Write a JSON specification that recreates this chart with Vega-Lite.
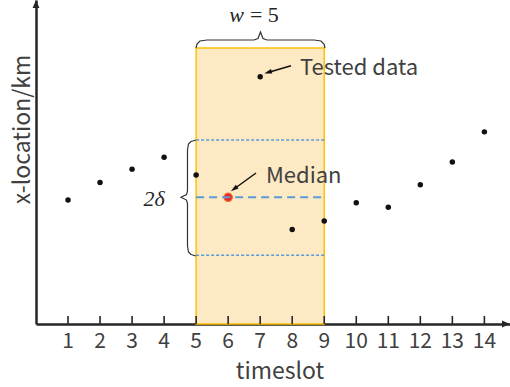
{
  "$schema": "https://vega.github.io/schema/vega-lite/v6.json",
  "width": 474,
  "height": 324,
  "autosize": {"type": "none"},
  "padding": {"left": 36, "top": 0, "right": 0, "bottom": 63},
  "background": "white",
  "config": {
    "view": {"stroke": null},
    "axis": {"grid": false},
    "axisX": {
      "domain": true, "domainColor": "#262626", "domainWidth": 2.5,
      "ticks": false, "labels": false,
      "titleFont": "Noto Sans CJK SC", "titleFontSize": 23,
      "titleFontWeight": "normal", "titleColor": "#404040"
    },
    "axisY": {
      "domain": true, "domainColor": "#262626", "domainWidth": 2.5,
      "ticks": false, "labels": false,
      "titleFont": "Noto Sans CJK SC", "titleFontSize": 23,
      "titleFontWeight": "normal", "titleColor": "#404040"
    }
  },
  "datasets": {
    "pts": [
      {"t": 1, "loc": 3.83, "kind": "data"},
      {"t": 2, "loc": 4.37, "kind": "data"},
      {"t": 3, "loc": 4.78, "kind": "data"},
      {"t": 4, "loc": 5.15, "kind": "data"},
      {"t": 5, "loc": 4.6, "kind": "data"},
      {"t": 6, "loc": 3.91, "kind": "median"},
      {"t": 7, "loc": 7.63, "kind": "data"},
      {"t": 8, "loc": 2.92, "kind": "data"},
      {"t": 9, "loc": 3.18, "kind": "data"},
      {"t": 10, "loc": 3.74, "kind": "data"},
      {"t": 11, "loc": 3.6, "kind": "data"},
      {"t": 12, "loc": 4.3, "kind": "data"},
      {"t": 13, "loc": 5.0, "kind": "data"},
      {"t": 14, "loc": 5.93, "kind": "data"}
    ],
    "win": [{"start": 5, "end": 9, "top": 8.52}],
    "bands": [
      {"start": 5, "end": 9, "level": 5.68, "kind": "bound"},
      {"start": 5, "end": 9, "level": 3.91, "kind": "median"},
      {"start": 5, "end": 9, "level": 2.12, "kind": "bound"}
    ],
    "braces": [
      {"b": "top", "i": 0, "bx": 4.995, "by": 8.519},
      {"b": "top", "i": 1, "bx": 5.027, "by": 8.642},
      {"b": "top", "i": 2, "bx": 5.12, "by": 8.735},
      {"b": "top", "i": 3, "bx": 5.339, "by": 8.765},
      {"b": "top", "i": 4, "bx": 6.806, "by": 8.765},
      {"b": "top", "i": 5, "bx": 6.931, "by": 8.812},
      {"b": "top", "i": 6, "bx": 7.009, "by": 9.012},
      {"b": "top", "i": 7, "bx": 7.087, "by": 8.812},
      {"b": "top", "i": 8, "bx": 7.212, "by": 8.765},
      {"b": "top", "i": 9, "bx": 8.68, "by": 8.765},
      {"b": "top", "i": 10, "bx": 8.898, "by": 8.735},
      {"b": "top", "i": 11, "bx": 8.992, "by": 8.642},
      {"b": "top", "i": 12, "bx": 9.023, "by": 8.519},
      {"b": "left", "i": 0, "bx": 4.995, "by": 5.679},
      {"b": "left", "i": 1, "bx": 4.839, "by": 5.633},
      {"b": "left", "i": 2, "bx": 4.761, "by": 5.556},
      {"b": "left", "i": 3, "bx": 4.73, "by": 5.37},
      {"b": "left", "i": 4, "bx": 4.73, "by": 4.105},
      {"b": "left", "i": 5, "bx": 4.699, "by": 3.995},
      {"b": "left", "i": 6, "bx": 4.527, "by": 3.91},
      {"b": "left", "i": 7, "bx": 4.699, "by": 3.825},
      {"b": "left", "i": 8, "bx": 4.73, "by": 3.715},
      {"b": "left", "i": 9, "bx": 4.73, "by": 2.407},
      {"b": "left", "i": 10, "bx": 4.761, "by": 2.222},
      {"b": "left", "i": 11, "bx": 4.839, "by": 2.145},
      {"b": "left", "i": 12, "bx": 4.995, "by": 2.099}
    ],
    "arrows": [
      {"a": "tested", "i": 0, "ax": 7.961, "ay": 7.972},
      {"a": "tested", "i": 1, "ax": 7.243, "ay": 7.765},
      {"a": "median", "i": 0, "ax": 6.869, "ay": 4.66},
      {"a": "median", "i": 1, "ax": 6.182, "ay": 4.167}
    ],
    "heads": [
      {"ax": 7.243, "ay": 7.765, "dir": 253.7},
      {"ax": 6.182, "ay": 4.167, "dir": 234.3}
    ],
    "notes": [
      {"nx": 8.243, "ny": 7.685, "txt": "Tested data"},
      {"nx": 7.18, "ny": 4.343, "txt": "Median"}
    ],
    "math": [
      {"mx": 6.495, "my": 9.33, "txt": "w", "align": "right"},
      {"mx": 6.68, "my": 9.33, "txt": "= 5", "align": "left"},
      {"mx": 3.684, "my": 3.64, "txt": "2δ", "align": "center"}
    ],
    "axisEnds": [
      {"ex": 0, "ey": 9.877, "dir": 0},
      {"ex": 14.675, "ey": 0, "dir": 90}
    ]
  },
  "layer": [
    {
      "data": {"name": "win"},
      "mark": {"type": "rect", "fill": "#FDEAC4", "stroke": "#FFC000", "strokeWidth": 1.5},
      "encoding": {
        "x": {
          "field": "start", "type": "quantitative",
          "scale": {"domain": [0, 14.8], "nice": false, "zero": false},
          "axis": {
            "title": "timeslot",
            "titleX": 243.5, "titleY": 54, "titleBaseline": "alphabetic", "titleAlign": "center"
          }
        },
        "x2": {"field": "end"},
        "y": {
          "field": "top", "type": "quantitative",
          "scale": {"domain": [0, 10], "nice": false, "zero": false},
          "axis": {
            "title": "x-location/km",
            "titleX": -14, "titleY": 129, "titleAngle": -90, "titleBaseline": "middle", "titleAlign": "center"
          }
        },
        "y2": {"datum": 0}
      }
    },
    {
      "data": {"name": "pts"},
      "mark": {"type": "point", "shape": "M0,-1L0,1", "filled": false, "stroke": "#262626", "strokeWidth": 1.6, "size": 64, "opacity": 1},
      "encoding": {
        "x": {"field": "t", "type": "quantitative"},
        "y": {"datum": 0.125}
      }
    },
    {
      "data": {"name": "pts"},
      "mark": {"type": "text", "baseline": "top", "align": "center", "dy": 7, "font": "Noto Sans CJK SC", "fontSize": 21, "color": "#404040"},
      "encoding": {
        "x": {"field": "t", "type": "quantitative"},
        "y": {"datum": 0},
        "text": {"field": "t", "type": "quantitative"}
      }
    },
    {
      "data": {"name": "pts"},
      "transform": [{"filter": "datum.kind === 'data'"}],
      "mark": {"type": "point", "filled": true, "color": "#111111", "size": 30, "opacity": 1},
      "encoding": {
        "x": {"field": "t", "type": "quantitative"},
        "y": {"field": "loc", "type": "quantitative"}
      }
    },
    {
      "data": {"name": "pts"},
      "transform": [{"filter": "datum.kind === 'median'"}],
      "mark": {"type": "point", "filled": true, "fill": "#E8262A", "stroke": "#E86A30", "strokeWidth": 1.2, "size": 70, "opacity": 1},
      "encoding": {
        "x": {"field": "t", "type": "quantitative"},
        "y": {"field": "loc", "type": "quantitative"}
      }
    },
    {
      "data": {"name": "bands"},
      "transform": [{"filter": "datum.kind === 'bound'"}],
      "mark": {"type": "rule", "color": "#5B9BD5", "strokeWidth": 1.5, "strokeDash": [3, 2]},
      "encoding": {
        "x": {"field": "start", "type": "quantitative"},
        "x2": {"field": "end"},
        "y": {"field": "level", "type": "quantitative"}
      }
    },
    {
      "data": {"name": "bands"},
      "transform": [{"filter": "datum.kind === 'median'"}],
      "mark": {"type": "rule", "color": "#5B9BD5", "strokeWidth": 2, "strokeDash": [8, 5]},
      "encoding": {
        "x": {"field": "start", "type": "quantitative"},
        "x2": {"field": "end"},
        "y": {"field": "level", "type": "quantitative"}
      }
    },
    {
      "data": {"name": "braces"},
      "mark": {"type": "line", "color": "#333333", "strokeWidth": 1.2, "interpolate": "linear"},
      "encoding": {
        "x": {"field": "bx", "type": "quantitative"},
        "y": {"field": "by", "type": "quantitative"},
        "detail": {"field": "b"},
        "order": {"field": "i"}
      }
    },
    {
      "data": {"name": "arrows"},
      "mark": {"type": "line", "color": "#111111", "strokeWidth": 1.5},
      "encoding": {
        "x": {"field": "ax", "type": "quantitative"},
        "y": {"field": "ay", "type": "quantitative"},
        "detail": {"field": "a"},
        "order": {"field": "i"}
      }
    },
    {
      "data": {"name": "heads"},
      "mark": {"type": "point", "filled": true, "color": "#111111", "opacity": 1, "size": 60, "shape": "M0,-1L0.6,1L-0.6,1Z"},
      "encoding": {
        "x": {"field": "ax", "type": "quantitative"},
        "y": {"field": "ay", "type": "quantitative"},
        "angle": {"field": "dir", "type": "quantitative", "scale": null}
      }
    },
    {
      "data": {"name": "notes"},
      "mark": {"type": "text", "align": "left", "baseline": "alphabetic", "font": "Noto Sans CJK SC", "fontSize": 22, "color": "#404040"},
      "encoding": {
        "x": {"field": "nx", "type": "quantitative"},
        "y": {"field": "ny", "type": "quantitative"},
        "text": {"field": "txt"}
      }
    },
    {
      "data": {"name": "math"},
      "transform": [{"filter": "datum.align === 'right'"}],
      "mark": {"type": "text", "align": "right", "baseline": "alphabetic", "font": "Liberation Serif", "fontStyle": "italic", "fontSize": 22, "color": "#262626"},
      "encoding": {
        "x": {"field": "mx", "type": "quantitative"},
        "y": {"field": "my", "type": "quantitative"},
        "text": {"field": "txt"}
      }
    },
    {
      "data": {"name": "math"},
      "transform": [{"filter": "datum.align === 'left'"}],
      "mark": {"type": "text", "align": "left", "baseline": "alphabetic", "font": "Liberation Serif", "fontSize": 22, "color": "#262626"},
      "encoding": {
        "x": {"field": "mx", "type": "quantitative"},
        "y": {"field": "my", "type": "quantitative"},
        "text": {"field": "txt"}
      }
    },
    {
      "data": {"name": "math"},
      "transform": [{"filter": "datum.align === 'center'"}],
      "mark": {"type": "text", "align": "center", "baseline": "alphabetic", "font": "Liberation Serif", "fontStyle": "italic", "fontSize": 22, "color": "#262626"},
      "encoding": {
        "x": {"field": "mx", "type": "quantitative"},
        "y": {"field": "my", "type": "quantitative"},
        "text": {"field": "txt"}
      }
    },
    {
      "data": {"name": "axisEnds"},
      "mark": {"type": "point", "filled": true, "color": "#262626", "opacity": 1, "size": 64, "shape": "M0,-1L0.85,1L-0.85,1Z"},
      "encoding": {
        "x": {"field": "ex", "type": "quantitative"},
        "y": {"field": "ey", "type": "quantitative"},
        "angle": {"field": "dir", "type": "quantitative", "scale": null}
      }
    }
  ]
}
